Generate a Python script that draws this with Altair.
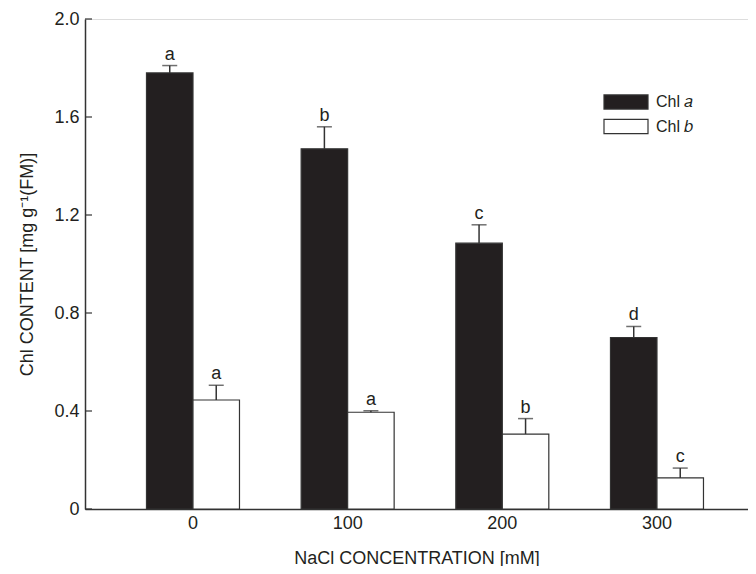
import altair as alt
import pandas as pd

conc = ["0", "100", "200", "300"]
types = ["Chl a", "Chl b"]
type_labels = ["Chl 𝑎", "Chl 𝑏"]
chl_a = [1.78, 1.47, 1.085, 0.70]
chl_a_err = [0.03, 0.09, 0.075, 0.045]
chl_b = [0.445, 0.395, 0.306, 0.127]
chl_b_err = [0.06, 0.006, 0.063, 0.04]
letters_a = ["a", "b", "c", "d"]
letters_b = ["a", "a", "b", "c"]
y_ticks = [0, 0.4, 0.8, 1.2, 1.6, 2.0]

FONT = "Liberation Sans"
INK = "#231f20"

rows = []
for i, c in enumerate(conc):
    rows.append(dict(conc=c, type=type_labels[0], value=chl_a[i], upper=chl_a[i] + chl_a_err[i], letter=letters_a[i]))
    rows.append(dict(conc=c, type=type_labels[1], value=chl_b[i], upper=chl_b[i] + chl_b_err[i], letter=letters_b[i]))
df = pd.DataFrame(rows)
tick_df = pd.DataFrame({"t": y_ticks})

yscale = alt.Scale(domain=[0, 2.0], nice=False, zero=True)

base = alt.Chart(df).encode(
    x=alt.X("conc:N", sort=conc,
            scale=alt.Scale(paddingInner=0.3987, paddingOuter=0.3427, align=0.58),
            axis=alt.Axis(labelAngle=0, ticks=False, domainColor="#333", domainWidth=1.5,
                          labelFontSize=18, labelPadding=5, labelColor=INK, labelFont=FONT,
                          title="NaCl CONCENTRATION [mM]", titleFont=FONT, titleFontSize=18,
                          titleFontWeight="normal", titleColor=INK, titlePadding=17, grid=False)),
    xOffset=alt.XOffset("type:N", sort=type_labels, scale=alt.Scale(paddingInner=0, paddingOuter=0)),
)

bars = base.mark_bar(stroke="#333", strokeWidth=1.2).encode(
    y=alt.Y("value:Q", scale=yscale,
            axis=alt.Axis(values=y_ticks, labelExpr="datum.value == 0 ? '0' : format(datum.value, '.1f')",
                          ticks=False, domainColor="#333", domainWidth=1.5, labelFontSize=18,
                          labelPadding=6, labelColor=INK, labelFont=FONT,
                          title="Chl CONTENT [mg g⁻¹(FM)]", titleFont=FONT, titleFontSize=18,
                          titleFontWeight="normal", titleColor=INK, titlePadding=17, grid=False)),
    color=alt.Color("type:N", sort=type_labels,
                    scale=alt.Scale(domain=type_labels, range=[INK, "#ffffff"]),
                    legend=alt.Legend(orient="none", legendX=518, legendY=71, title=None,
                                      symbolType="M-1,-0.64L3,-0.64L3,0.64L-1,0.64Z", symbolSize=484,
                                      symbolStrokeColor="#333", symbolStrokeWidth=1.2,
                                      labelFontSize=16, labelFont=FONT, labelColor=INK,
                                      labelOffset=29, rowPadding=2.5)),
)

rules = base.mark_rule(color="#333", strokeWidth=1.5).encode(y="value:Q", y2="upper:Q")
caps = base.mark_tick(color="#333", thickness=1.5, size=15).encode(y="upper:Q")
labels = base.mark_text(font=FONT, fontSize=18, dy=-6, baseline="alphabetic", color=INK).encode(
    y="upper:Q", text="letter:N")

inticks = alt.Chart(tick_df).mark_rule(color="#333", strokeWidth=1.2).encode(
    y=alt.Y("t:Q", scale=yscale), x=alt.value(0), x2=alt.value(7))

chart = alt.layer(bars, rules, caps, labels, inticks).properties(
    width=663, height=490,
    autosize=alt.AutoSizeParams(type="none"),
    padding={"left": 77, "top": 11, "right": 0, "bottom": 57},
).configure_view(stroke=None).configure(background="white")

chart.save("out.html", embed_options={"renderer": "svg", "actions": False})
